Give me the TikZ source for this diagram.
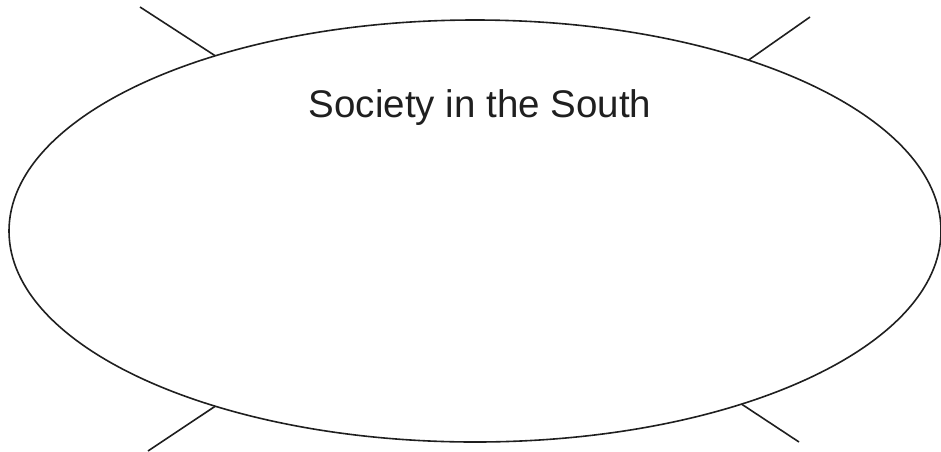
\documentclass[tikz,border=0pt]{standalone}
\usepackage{fontspec}
\setmainfont{Liberation Sans}
\usetikzlibrary{shapes.geometric}
\tikzset{
  rim/.style={draw=black!88, line width=1.6pt},
  bigoval/.style={rim, ellipse, minimum width=932pt, minimum height=422pt, inner sep=0pt, outer sep=0pt},
  spoke/.style={draw=black!88, line width=1.6pt},
  title/.style={font=\fontsize{38.5}{41}\selectfont, text=black!88, inner sep=0pt}
}
\begin{document}
\begin{tikzpicture}[x=1pt,y=-1pt]
\useasboundingbox (0,0) rectangle (941,451);
\node[bigoval] (oval) at (475,231) {};
\node[title, anchor=base] (lbl) at (480,117) {Society in the South};
\coordinate (tl) at (140,7);
\coordinate (tr) at (810,17);
\coordinate (bl) at (148,451);
\coordinate (br) at (799,442);
\draw[spoke] (oval.146.06) -- (tl);
\draw[spoke] (oval.32.2) -- (tr);
\draw[spoke] (oval.214.05) -- (bl);
\draw[spoke] (oval.327) -- (br);
\end{tikzpicture}
\end{document}
